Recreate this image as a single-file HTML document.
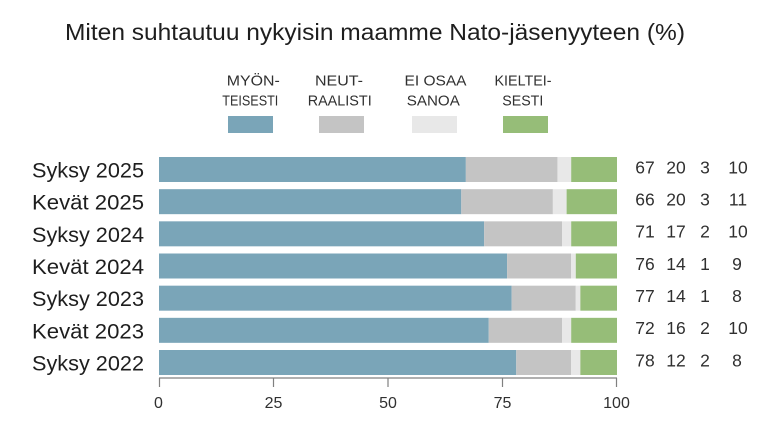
<!DOCTYPE html>
<html><head><meta charset="utf-8"><style>
html,body{margin:0;padding:0;background:#fff;}
svg{display:block;}
text{font-family:"Liberation Sans",sans-serif;}
</style></head><body>
<svg width="775" height="425" viewBox="0 0 775 425" xmlns="http://www.w3.org/2000/svg">
<text x="65" y="40" font-size="23" fill="#1e1e1e" textLength="620" lengthAdjust="spacingAndGlyphs">Miten suhtautuu nykyisin maamme Nato-jäsenyyteen (%)</text>

<g font-size="15" fill="#303030" text-anchor="middle">
<text x="253.3" y="85.5" textLength="53" lengthAdjust="spacingAndGlyphs">MYÖN-</text>
<text x="250.3" y="105.5" textLength="56" lengthAdjust="spacingAndGlyphs">TEISESTI</text>
<text x="339" y="85.5" textLength="48" lengthAdjust="spacingAndGlyphs">NEUT-</text>
<text x="339.7" y="105.5" textLength="64" lengthAdjust="spacingAndGlyphs">RAALISTI</text>
<text x="435.5" y="85.5" textLength="62" lengthAdjust="spacingAndGlyphs">EI OSAA</text>
<text x="433.3" y="105.5" textLength="53" lengthAdjust="spacingAndGlyphs">SANOA</text>
<text x="523" y="85.5" textLength="57" lengthAdjust="spacingAndGlyphs">KIELTEI-</text>
<text x="522.8" y="105.5" textLength="41" lengthAdjust="spacingAndGlyphs">SESTI</text>
</g>
<rect x="228" y="116" width="45" height="17" fill="#7aa5b8"/>
<rect x="319" y="116" width="45" height="17" fill="#c4c4c4"/>
<rect x="412" y="116" width="45" height="17" fill="#e8e8e8"/>
<rect x="503" y="116" width="45" height="17" fill="#96bd78"/>

<g font-size="21.5" fill="#1e1e1e">
<text x="32" y="177.5" textLength="112" lengthAdjust="spacingAndGlyphs">Syksy 2025</text>
<text x="32" y="209.7" textLength="112" lengthAdjust="spacingAndGlyphs">Kevät 2025</text>
<text x="32" y="241.8" textLength="112" lengthAdjust="spacingAndGlyphs">Syksy 2024</text>
<text x="32" y="274" textLength="112" lengthAdjust="spacingAndGlyphs">Kevät 2024</text>
<text x="32" y="306.2" textLength="112" lengthAdjust="spacingAndGlyphs">Syksy 2023</text>
<text x="32" y="338.3" textLength="112" lengthAdjust="spacingAndGlyphs">Kevät 2023</text>
<text x="32" y="370.5" textLength="112" lengthAdjust="spacingAndGlyphs">Syksy 2022</text>
</g>

<rect x="159" y="157" width="306.86" height="25" fill="#7aa5b8"/>
<rect x="465.86" y="157" width="91.6" height="25" fill="#c4c4c4"/>
<rect x="557.46" y="157" width="13.74" height="25" fill="#e8e8e8"/>
<rect x="571.2" y="157" width="45.8" height="25" fill="#96bd78"/>
<rect x="159" y="189.17" width="302.28" height="25" fill="#7aa5b8"/>
<rect x="461.28" y="189.17" width="91.6" height="25" fill="#c4c4c4"/>
<rect x="552.88" y="189.17" width="13.74" height="25" fill="#e8e8e8"/>
<rect x="566.62" y="189.17" width="50.38" height="25" fill="#96bd78"/>
<rect x="159" y="221.33" width="325.18" height="25" fill="#7aa5b8"/>
<rect x="484.18" y="221.33" width="77.86" height="25" fill="#c4c4c4"/>
<rect x="562.04" y="221.33" width="9.16" height="25" fill="#e8e8e8"/>
<rect x="571.2" y="221.33" width="45.8" height="25" fill="#96bd78"/>
<rect x="159" y="253.5" width="348.08" height="25" fill="#7aa5b8"/>
<rect x="507.08" y="253.5" width="64.12" height="25" fill="#c4c4c4"/>
<rect x="571.2" y="253.5" width="4.58" height="25" fill="#e8e8e8"/>
<rect x="575.78" y="253.5" width="41.22" height="25" fill="#96bd78"/>
<rect x="159" y="285.67" width="352.66" height="25" fill="#7aa5b8"/>
<rect x="511.66" y="285.67" width="64.12" height="25" fill="#c4c4c4"/>
<rect x="575.78" y="285.67" width="4.58" height="25" fill="#e8e8e8"/>
<rect x="580.36" y="285.67" width="36.64" height="25" fill="#96bd78"/>
<rect x="159" y="317.83" width="329.76" height="25" fill="#7aa5b8"/>
<rect x="488.76" y="317.83" width="73.28" height="25" fill="#c4c4c4"/>
<rect x="562.04" y="317.83" width="9.16" height="25" fill="#e8e8e8"/>
<rect x="571.2" y="317.83" width="45.8" height="25" fill="#96bd78"/>
<rect x="159" y="350" width="357.24" height="25" fill="#7aa5b8"/>
<rect x="516.24" y="350" width="54.96" height="25" fill="#c4c4c4"/>
<rect x="571.2" y="350" width="9.16" height="25" fill="#e8e8e8"/>
<rect x="580.36" y="350" width="36.64" height="25" fill="#96bd78"/>

<g font-size="17.5" fill="#303030" text-anchor="middle">
<text x="645" y="173.3">67</text><text x="676" y="173.3">20</text><text x="705" y="173.3">3</text><text x="738" y="173.3">10</text>
<text x="645" y="205.5">66</text><text x="676" y="205.5">20</text><text x="705" y="205.5">3</text><text x="738" y="205.5">11</text>
<text x="645" y="237.6">71</text><text x="676" y="237.6">17</text><text x="705" y="237.6">2</text><text x="738" y="237.6">10</text>
<text x="645" y="269.8">76</text><text x="676" y="269.8">14</text><text x="705" y="269.8">1</text><text x="737" y="269.8">9</text>
<text x="645" y="302">77</text><text x="676" y="302">14</text><text x="705" y="302">1</text><text x="737" y="302">8</text>
<text x="645" y="334.1">72</text><text x="676" y="334.1">16</text><text x="705" y="334.1">2</text><text x="738" y="334.1">10</text>
<text x="645" y="366.3">78</text><text x="676" y="366.3">12</text><text x="705" y="366.3">2</text><text x="737" y="366.3">8</text>
</g>

<g stroke="#808080" stroke-width="1.2" fill="none">
<line x1="159" y1="378" x2="617" y2="378"/>
<line x1="159.5" y1="378" x2="159.5" y2="387"/>
<line x1="273.5" y1="378" x2="273.5" y2="387"/>
<line x1="388" y1="378" x2="388" y2="387"/>
<line x1="502.5" y1="378" x2="502.5" y2="387"/>
<line x1="616.5" y1="378" x2="616.5" y2="387"/>
</g>
<g font-size="16" fill="#303030" text-anchor="middle">
<text x="158.5" y="408">0</text>
<text x="273.5" y="408">25</text>
<text x="388" y="408">50</text>
<text x="502.5" y="408">75</text>
<text x="616.5" y="408">100</text>
</g>
</svg>
</body></html>
